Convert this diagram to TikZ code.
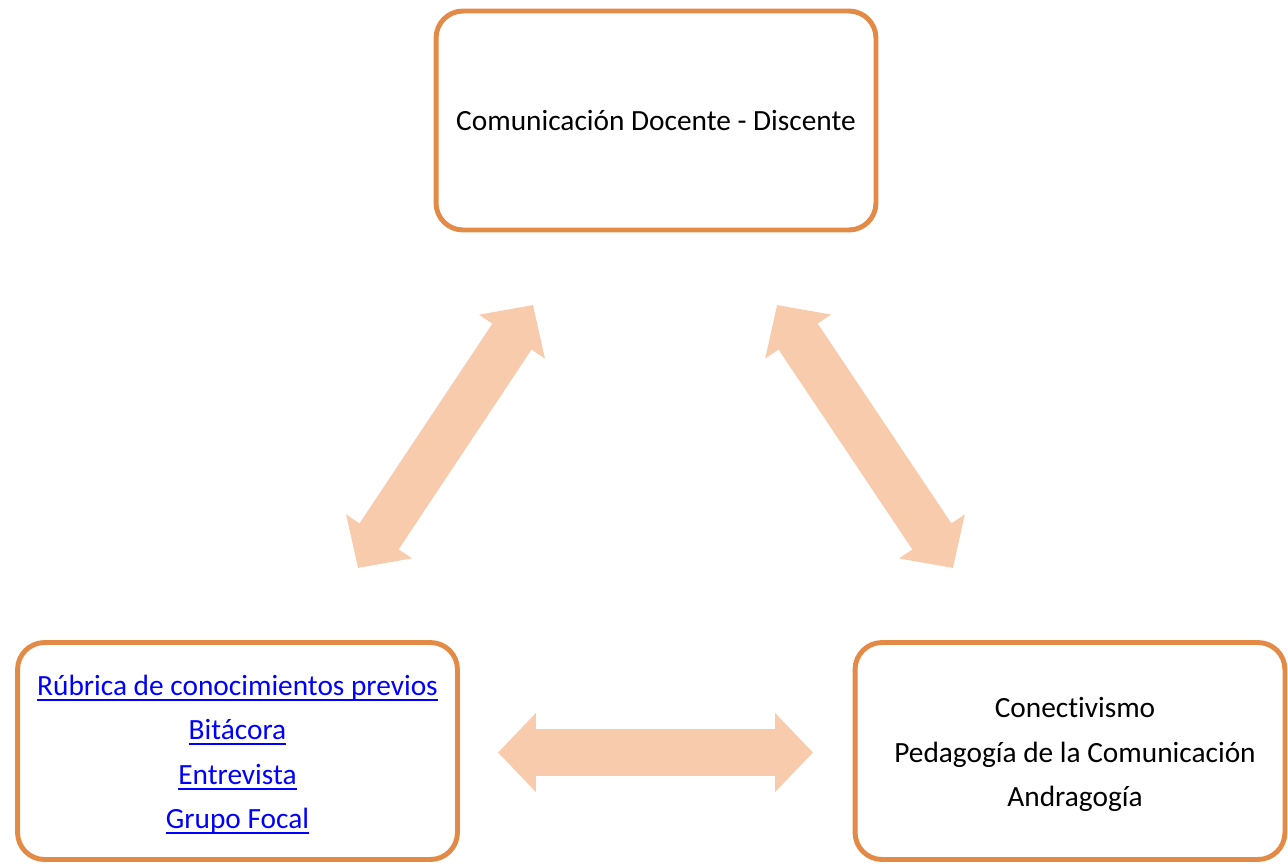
\documentclass[tikz,border=0pt]{standalone}
\usepackage{fontspec}
\setmainfont[Ligatures=NoCommon]{Carlito}
\usetikzlibrary{arrows.meta}
\definecolor{boxline}{RGB}{227,139,70}
\definecolor{arrowfill}{RGB}{248,203,173}
\definecolor{linkblue}{RGB}{0,0,255}
\newcommand{\linktext}[1]{\textcolor{linkblue}{\setbox0\hbox{#1}\rlap{\rule[-3pt]{\wd0}{1.1pt}}\box0}}
\begin{document}
\begin{tikzpicture}[x=0.02cm, y=-0.02cm, line join=round,
    >={Triangle[width=1.54cm,length=0.76cm]},
    font=\fontsize{16.7}{25.3}\selectfont,
    caja/.style={draw=boxline, line width=2.8pt, rounded corners=0.54cm,
        fill=white, inner sep=0pt},
    texto/.style={align=center, inner sep=0pt},
    flecha/.style={<->, draw=arrowfill, fill=arrowfill, line width=0.94cm}]
    \useasboundingbox (0,0) rectangle (1288,863);
    % cajas
    \node[caja, minimum width=8.8cm, minimum height=4.38cm] (comunicacion) at (656,120.5) {};
    \node[caja, minimum width=8.8cm, minimum height=4.34cm] (instrumentos) at (237.5,751) {};
    \node[caja, minimum width=8.6cm, minimum height=4.34cm] (teorias) at (1070,751) {};
    % textos
    \node[texto] (comunicacion-t) at (comunicacion.center) {Comunicación Docente - Discente};
    \node[texto] (instrumentos-t) at ([yshift=-0.07cm]instrumentos.center)
        {\linktext{Rúbrica de conocimientos previos}\\ \linktext{Bitácora}\\
         \linktext{Entrevista}\\ \linktext{Grupo Focal}};
    \node[texto] (teorias-t) at ([xshift=0.1cm,yshift=-0.07cm]teorias.center)
        {Conectivismo\\ Pedagogía de la Comunicación\\ Andragogía};
    % extremos de las flechas
    \coordinate (i1) at (358,568);
    \coordinate (c1) at (533,305);
    \coordinate (c2) at (777,305);
    \coordinate (t1) at (953,568);
    \coordinate (i2) at (498,752.5);
    \coordinate (t2) at (813,752.5);
    \draw[flecha] (i1) -- (c1);
    \draw[flecha] (c2) -- (t1);
    \draw[flecha] (i2) -- (t2);
\end{tikzpicture}
\end{document}
